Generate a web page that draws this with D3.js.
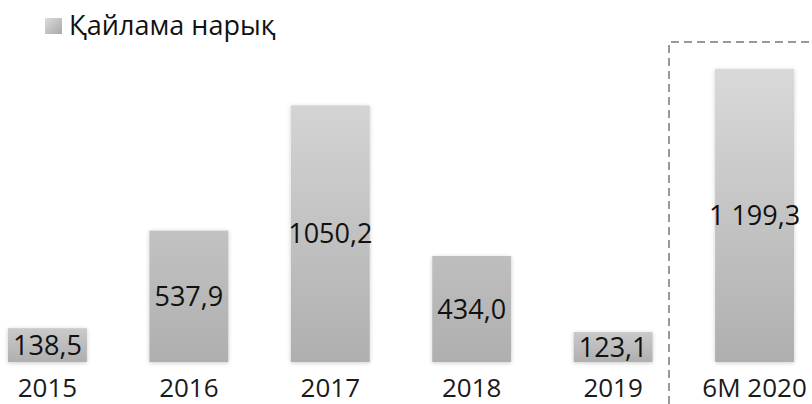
<!DOCTYPE html>
<html><head><meta charset="utf-8">
<script src="https://cdn.jsdelivr.net/npm/d3@7"></script>
<style>body{margin:0;background:#fff}svg{display:block}</style>
</head><body>
<svg id="c" width="812" height="404"></svg>
<script>
const categories = ["2015","2016","2017","2018","2019","6M 2020"];
const values = [138.5, 537.9, 1050.2, 434.0, 123.1, 1199.3];
const valueLabels = ["138,5","537,9","1050,2","434,0","123,1","1 199,3"];
const seriesName = "Қайлама нарық";

const svg = d3.select("#c");
const baseY = 362, topY = 69;
const FONT = "'Open Sans', sans-serif";
const x = d3.scaleBand().domain(categories).range([8, 794]).paddingInner(0.442).paddingOuter(0);
const y = d3.scaleLinear().domain([0, 1199.3]).range([baseY, topY]);

const defs = svg.append("defs");
const g = defs.append("linearGradient").attr("id","barG").attr("x1",0).attr("x2",0)
  .attr("gradientUnits","userSpaceOnUse").attr("y1",topY).attr("y2",baseY);
g.append("stop").attr("offset","0%").attr("stop-color","#d9d9d9");
g.append("stop").attr("offset","100%").attr("stop-color","#afafaf");
const gs = defs.append("linearGradient").attr("id","smallG").attr("x1",0).attr("y1",0).attr("x2",0).attr("y2",1);
gs.append("stop").attr("offset","0%").attr("stop-color","#cacaca");
gs.append("stop").attr("offset","100%").attr("stop-color","#afafaf");
const lg = defs.append("linearGradient").attr("id","legG").attr("x1",0).attr("y1",0).attr("x2",1).attr("y2",1);
lg.append("stop").attr("offset","0%").attr("stop-color","#dcdcdc");
lg.append("stop").attr("offset","100%").attr("stop-color","#a8a8a8");
const f = defs.append("filter").attr("id","sh").attr("x","-20%").attr("y","-20%").attr("width","140%").attr("height","140%");
f.append("feDropShadow").attr("dx",0).attr("dy",1).attr("stdDeviation",2.2).attr("flood-color","#000").attr("flood-opacity",0.2);

// legend
svg.append("rect").attr("x",45).attr("y",18).attr("width",17).attr("height",16).attr("fill","url(#legG)");
svg.append("text").attr("x",69).attr("y",35).attr("font-family",FONT)
  .attr("font-size",27).attr("fill","#111").text(seriesName);

// dashed frame
svg.append("path").attr("d","M669,404 L669,42 L812,42").attr("fill","none")
  .attr("stroke","#999").attr("stroke-width",2).attr("stroke-dasharray","8,5");

// bars
svg.selectAll("rect.bar").data(categories).join("rect").attr("class","bar")
  .attr("x", d => x(d)).attr("width", x.bandwidth())
  .attr("y", (d,i) => y(values[i])).attr("height", (d,i) => baseY - y(values[i]))
  .attr("fill", (d,i) => values[i] < 200 ? "url(#smallG)" : "url(#barG)")
  .attr("filter","url(#sh)");

// value labels
svg.selectAll("text.val").data(categories).join("text").attr("class","val")
  .attr("x", d => x(d) + x.bandwidth()/2)
  .attr("y", (d,i) => (y(values[i]) + baseY)/2)
  .attr("dy","0.36em").attr("text-anchor","middle")
  .attr("font-family",FONT).attr("font-size",27).attr("fill","#111")
  .text((d,i) => valueLabels[i]);

// axis labels
svg.selectAll("text.cat").data(categories).join("text").attr("class","cat")
  .attr("x", d => x(d) + x.bandwidth()/2).attr("y", 397)
  .attr("text-anchor","middle").attr("font-family",FONT).attr("font-size",26).attr("fill","#1a1a1a")
  .text(d => d);
</script>
</body></html>
